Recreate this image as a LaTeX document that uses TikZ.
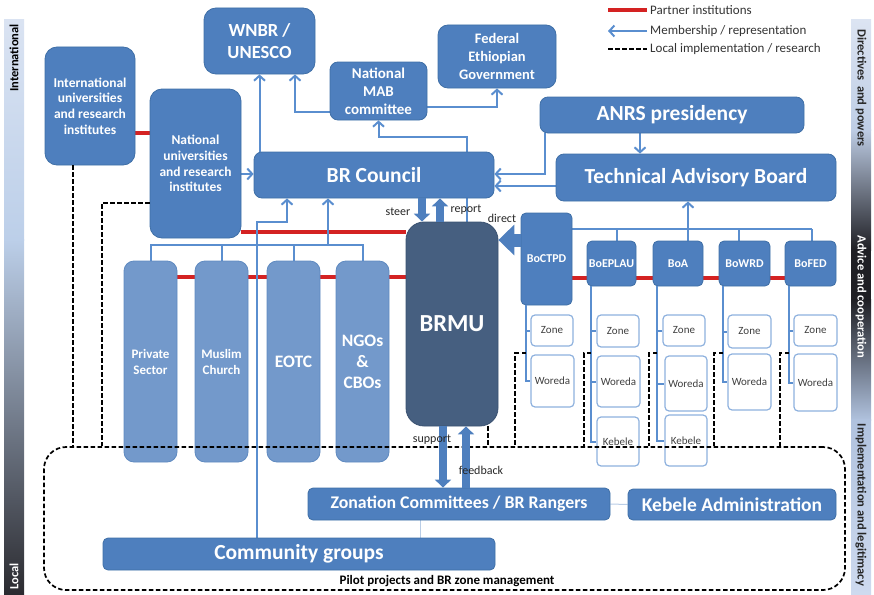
\documentclass[tikz,border=0pt]{standalone}
\usepackage{fontspec}
\setmainfont{Carlito}
\usetikzlibrary{arrows.meta}
\pgfdeclarelayer{bg}
\pgfsetlayers{bg,main}
\definecolor{boxblue}{HTML}{4E7FBE}
\definecolor{boxedge}{HTML}{3F6FA6}
\definecolor{pillar}{HTML}{7399CB}
\definecolor{pillaredge}{HTML}{5F8AC0}
\definecolor{brmucol}{HTML}{465F80}
\definecolor{brmuedge}{HTML}{3A5170}
\definecolor{linkblue}{HTML}{5A8ECF}
\definecolor{zoneedge}{HTML}{8EB1DE}
\definecolor{subtext}{HTML}{404040}
\definecolor{partnerred}{HTML}{D42222}
\definecolor{faintblue}{HTML}{B9CDE6}
\definecolor{lbA}{HTML}{DAE3F2}
\definecolor{lbB}{HTML}{BCCFE9}
\definecolor{lbC}{HTML}{2B2B30}
\definecolor{rbA}{HTML}{DCE4F2}
\definecolor{rbB}{HTML}{BECDE5}
\definecolor{rbC}{HTML}{1F1F24}
\definecolor{rbD}{HTML}{B0C2DE}
\definecolor{rbE}{HTML}{CEDAEF}
\tikzset{
 box/.style={draw=boxedge, line width=0.8pt, fill=boxblue, rounded corners=8pt, text=white, align=center, inner sep=0pt},
 wh/.style 2 args={minimum width=#1pt, minimum height=#2pt},
 fsb/.style 2 args={font=\bfseries\fontsize{#1}{#2}\selectfont},
 pil/.style={box, fill=pillar, draw=pillaredge, rounded corners=10pt},
 bo/.style={box, rounded corners=5pt, fsb={12}{14}},
 sub/.style={draw=zoneedge, line width=1.2pt, fill=white, rounded corners=4pt, inner sep=0pt, text=subtext, font=\fontsize{11}{13}\selectfont},
 link/.style={draw=linkblue, line width=2pt},
 arr/.style={link, -{Straight Barb[length=5pt,width=11pt]}},
 partner/.style={draw=partnerred, line width=3.5pt},
 localimp/.style={draw=black, line width=1.7pt, dash pattern=on 4.5pt off 2.5pt},
 faint/.style={draw=faintblue, line width=1pt},
 fat/.style={draw=boxblue, line width=8pt, -{Triangle[length=8pt,width=16pt]}},
 lbl/.style={font=\fontsize{12}{14}\selectfont, text=black!85, inner sep=0pt},
 legtxt/.style={font=\fontsize{13}{15}\selectfont, text=black!80, inner sep=0pt, anchor=west},
 side/.style={font=\bfseries\fontsize{12.5}{15}\selectfont, inner sep=0pt},
}
\begin{document}
\begin{tikzpicture}[x=1pt,y=-1pt]
\useasboundingbox (0,0) rectangle (874,594);

% ---------- nodes ----------
\node[box, wh={90}{118}, rounded corners=12pt, fsb={13.5}{15.7}] (intu) at (90,106) {International\\universities\\and research\\institutes};
\node[box, wh={111}{66}, rounded corners=12pt, fsb={18.5}{22}] (wnbr) at (259.5,41) {WNBR /\\UNESCO};
\node[box, wh={97}{58}, fsb={15}{18}] (mab) at (378.5,91) {National\\MAB\\committee};
\node[box, wh={118}{63}, rounded corners=10pt, fsb={14.5}{18}] (fed) at (497,56.5) {Federal\\Ethiopian\\Government};
\node[box, wh={91}{149}, rounded corners=12pt, fsb={13.5}{15.7}] (natu) at (195.5,163.5) {National\\universities\\and research\\institutes};
\node[box, wh={240}{46}, fsb={21.5}{24}] (brc) at (374,175) {BR Council};
\node[box, wh={264}{36}, fsb={21.5}{24}] (anrs) at (672,115) {ANRS presidency};
\node[box, wh={280}{47}, fsb={21.5}{24}] (tab) at (696,177.5) {Technical Advisory Board};
\node[box, fill=brmucol, draw=brmuedge, wh={92}{204}, rounded corners=18pt, fsb={24.5}{28}] (brmu) at (452,324) {BRMU};

\node[bo, wh={51}{92}] (boctpd) at (546.5,259) {BoCTPD};
\node[bo, wh={49}{45}] (boeplau) at (611.5,263.5) {BoEPLAU};
\node[bo, wh={50}{45}] (boa) at (678,263.5) {BoA};
\node[bo, wh={51}{45}] (bowrd) at (744.5,263.5) {BoWRD};
\node[bo, wh={51}{45}] (bofed) at (810.5,263.5) {BoFED};

\node[sub, wh={42}{31}] (z1) at (552,330.5) {Zone};
\node[sub, wh={43}{52}] (w1) at (552.5,381) {Woreda};
\node[sub, wh={42}{32}] (z2) at (618,331) {Zone};
\node[sub, wh={43}{51}] (w2) at (618.5,381.5) {Woreda};
\node[sub, wh={42}{49}] (k2) at (618,441.5) {Kebele};
\node[sub, wh={42}{31}] (z3) at (684,330.5) {Zone};
\node[sub, wh={42}{55}] (w3) at (686,383.5) {Woreda};
\node[sub, wh={42}{51}] (k3) at (686,440.5) {Kebele};
\node[sub, wh={43}{33}] (z4) at (749.5,331.5) {Zone};
\node[sub, wh={43}{56}] (w4) at (749.5,382) {Woreda};
\node[sub, wh={43}{31}] (z5) at (815.5,330.5) {Zone};
\node[sub, wh={43}{57}] (w5) at (815.5,382.5) {Woreda};

\node[pil, wh={53}{201}, fsb={13}{16}] (priv) at (150.5,361.5) {Private\\Sector};
\node[pil, wh={53}{201}, fsb={13}{16}] (musl) at (221.5,361.5) {Muslim\\Church};
\node[pil, wh={53}{201}, fsb={17.5}{20}] (eotc) at (293.5,361.5) {EOTC};
\node[pil, wh={53}{201}, fsb={17.5}{21}] (ngo) at (362.5,361.5) {NGOs\\\&\\CBOs};

\node[box, wh={302}{32}, rounded corners=5pt, fsb={17.8}{20}] (zon) at (459,504) {Zonation Committees / BR Rangers};
\node[box, wh={208}{31}, rounded corners=5pt, fsb={19.5}{22}] (keb) at (732,504.5) {Kebele Administration};
\node[box, wh={392}{32}, rounded corners=5pt, fsb={21.5}{24}] (comm) at (299,554) {Community groups};

\node[draw=black, line width=1.7pt, dash pattern=on 4.5pt off 2.5pt, rounded corners=22pt, wh={801}{143}, inner sep=0pt] (pilot) at (444.5,518.5) {};
\node[fsb={13}{14}, inner sep=0pt] (pilotlbl) at (447,581) {Pilot projects and BR zone management};

% ---------- background layer ----------
\begin{pgfonlayer}{bg}
 \shade[top color=lbA, bottom color=lbB] (4,20) rectangle (24,240);
 \shade[top color=lbB, bottom color=lbC] (4,239.5) rectangle (24,594);
 \shade[top color=rbA, bottom color=rbB] (851,20) rectangle (871,130);
 \shade[top color=rbB, bottom color=rbC] (851,129.5) rectangle (871,250);
 \fill[rbC] (851,249.5) rectangle (871,300);
 \shade[top color=rbC, bottom color=rbD] (851,299.5) rectangle (871,420);
 \shade[top color=rbD, bottom color=rbE] (851,419.5) rectangle (871,594);

 % partner lines
 \draw[partner] ([yshift=-27pt]intu.east) -- ([yshift=-27pt]intu.east -| natu.west);
 \draw[partner] ([yshift=-68.5pt]natu.east) -- ([yshift=-68.5pt]natu.east -| brmu.west);
 \draw[partner] ([yshift=84.5pt]priv.east) -- ([yshift=84.5pt]priv.east -| brmu.west);
 \draw[partner] ([yshift=-19pt]boctpd.east) -- ([yshift=-19pt]boctpd.east -| bofed.west);

 % membership links
 \draw[arr] (brc.north -| wnbr.south) -- (wnbr.south);
 \draw[arr] ([yshift=-21pt]mab.west) -| ([xshift=35.5pt]wnbr.south);
 \draw[arr] ([yshift=-16pt]mab.east) -| (fed.south);
 \draw[arr] ([xshift=15pt]brmu.north) |- ([yshift=-17pt]mab.south) -- (mab.south);
 \draw[arr] ([yshift=-10.5pt]natu.east) -- ([yshift=-10.5pt]natu.east -| brc.west);
 \draw[arr] ([xshift=5pt]anrs.south west) |- ([yshift=1pt]brc.east);
 \draw[arr] ([yshift=-8.5pt]tab.west) -- ([yshift=-8.5pt]tab.west -| brc.east);
 \draw[arr] ([xshift=-32pt]anrs.south) -- ([xshift=-32pt]anrs.south |- tab.north);

 \coordinate (bus) at (0,229);
 \draw[link] (boctpd.east |- bus) -- ([xshift=1.5pt]bofed.north |- bus);
 \draw[link] ([xshift=5.5pt]boeplau.north) -- ([xshift=5.5pt]boeplau.north |- bus);
 \draw[arr] ([xshift=10pt]boa.north) -- ([xshift=10pt]boa.north |- tab.south);
 \draw[link] ([xshift=-5.5pt]bowrd.north) -- ([xshift=-5.5pt]bowrd.north |- bus);
 \draw[link] ([xshift=1.5pt]bofed.north) -- ([xshift=1.5pt]bofed.north |- bus);

 \draw[link] (priv.north) -- ++(0,-16) -| (ngo.north);
 \draw[link] (musl.north) -- ++(0,-16);
 \draw[link] (eotc.north) -- ++(0,-16);
 \coordinate (pb) at (328,245);
 \draw[arr] (pb) -- (pb |- brc.south);
 \coordinate (cb) at (287,222);
 \draw[arr] ([xshift=-42pt]comm.north) |- (cb) -- (cb |- brc.south);

 \draw[faint] (zon.east) -- (keb.west);
 \draw[faint] ([xshift=-39pt]zon.south) -- ([xshift=-39pt]zon.south |- comm.north);
\end{pgfonlayer}

% ---------- Bo column links ----------
\draw[link] ([xshift=5pt]boctpd.south west) |- (w1.west);
\draw[link] ([xshift=5pt]boctpd.south west |- z1.west) -- (z1.west);
\draw[link] ([xshift=4pt]boeplau.south west) |- (k2.west);
\draw[link] ([xshift=4pt]boeplau.south west |- z2.west) -- (z2.west);
\draw[link] ([xshift=4pt]boeplau.south west |- w2.west) -- (w2.west);
\draw[link] ([xshift=4pt]boa.south west) |- (k3.west);
\draw[link] ([xshift=4pt]boa.south west |- z3.west) -- (z3.west);
\draw[link] ([xshift=4pt]boa.south west |- w3.west) -- (w3.west);
\draw[link] ([xshift=4pt]bowrd.south west) |- (w4.west);
\draw[link] ([xshift=4pt]bowrd.south west |- z4.west) -- (z4.west);
\draw[link] ([xshift=4pt]bofed.south west) |- (w5.west);
\draw[link] ([xshift=4pt]bofed.south west |- z5.west) -- (z5.west);

% ---------- local implementation (dashed) ----------
\draw[localimp] ([xshift=-17pt]intu.south) -- ([xshift=-17pt]intu.south |- pilot.north);
\coordinate (d1) at (102,0);
\draw[localimp] ([yshift=-39.5pt]natu.west) -| (d1 |- pilot.north);
\draw[localimp] ([xshift=36pt]brmu.south) -- ([xshift=36pt]brmu.south |- pilot.north);
\coordinate (t1) at (526,353); \coordinate (c1) at (515,0);
\draw[localimp] (t1) -| (c1 |- pilot.north);
\coordinate (t2) at (591,353); \coordinate (c2) at (584,0);
\draw[localimp] (t2) -| (c2 |- pilot.north);
\coordinate (t3) at (657,353); \coordinate (c3) at (649,0);
\draw[localimp] (t3) -| (c3 |- pilot.north);
\coordinate (t4) at (723,353); \coordinate (c4) at (714,0);
\draw[localimp] (t4) -| (c4 |- pilot.north);
\coordinate (t5) at (789,353); \coordinate (c5) at (780,0);
\draw[localimp] (t5) -| (c5 |- pilot.north);

% ---------- thick arrows ----------
\draw[fat] ([xshift=-30pt]brmu.north |- brc.south) -- ([xshift=-30pt]brmu.north);
\draw[fat] ([xshift=-12pt]brmu.north) -- ([xshift=-12pt]brmu.north |- brc.south);
\draw[fat] ([xshift=-9pt]brmu.south) -- ([xshift=-9pt]brmu.south |- zon.north);
\draw[fat] ([xshift=14pt]brmu.south |- zon.north) -- ([xshift=14pt]brmu.south);
\draw[fat, line width=13pt, -{Triangle[length=16pt,width=30pt]}] ([yshift=19pt]boctpd.west) -- ([yshift=19pt]boctpd.west -| brmu.east);

\node[lbl] (steer) at (398,212) {steer};
\node[lbl] (report) at (466,210) {report};
\node[lbl] (direct) at (502,218) {direct};
\node[lbl] (support) at (432,440) {support};
\node[lbl] (feedback) at (481,470) {feedback};

% ---------- legend ----------
\draw[partner] (608,10) -- (647,10);
\node[legtxt] (leg1) at (650,10) {Partner institutions};
\draw[arr] (647,31) -- (608,31);
\node[legtxt] (leg2) at (650,31) {Membership / representation};
\draw[localimp] (608,49) -- (647,49);
\node[legtxt] (leg3) at (650,49) {Local implementation / research};

% ---------- side bar texts ----------
\node[side, rotate=90, anchor=east, text=black] (intl) at (14,24) {International};
\node[side, rotate=90, anchor=west, text=white] (local) at (14,590) {Local};
\node[side, rotate=-90, text=black!85] (dirp) at (861,88) {Directives\ \ and powers};
\node[side, rotate=-90, text=white] (advc) at (861,297) {Advice and cooperation};
\node[side, rotate=-90, text=black!85] (impl) at (861,505) {Implementation and legitimacy};
\end{tikzpicture}
\end{document}
